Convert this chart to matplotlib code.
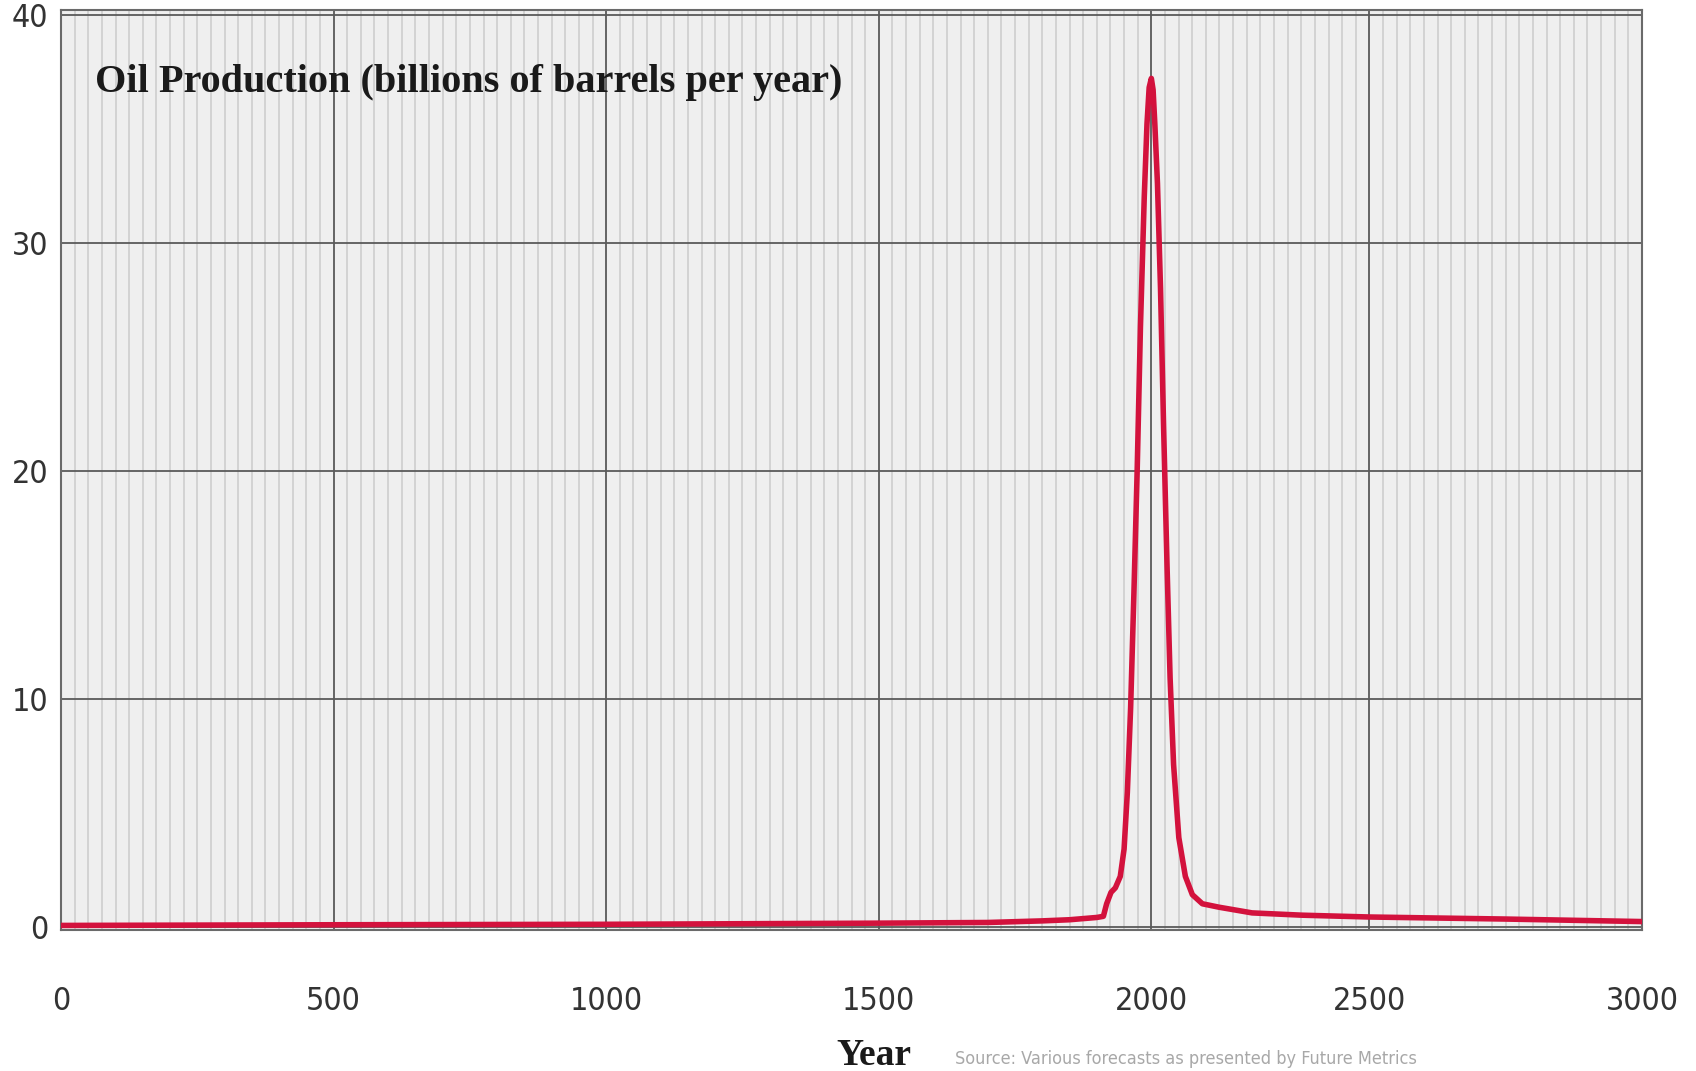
"""
oil production over the years 0 - 3000, redrawn with matplotlib
"""
import numpy as np
import matplotlib
matplotlib.use("Agg")
import matplotlib.pyplot as plt
from matplotlib.ticker import FixedLocator

# values (billions of barrels per year)
years = [0, 500, 1000, 1500, 1700, 1800, 1850, 1900, 1912, 1918, 1926, 1934,
         1943, 1950, 1956, 1962, 1968, 1974, 1980, 1987, 1992, 1996, 2000,
         2004, 2008, 2014, 2021, 2028, 2036, 2043, 2051, 2063, 2078, 2094,
         2117, 2155, 2231, 2345, 2500, 2750, 3000]
production = [0.05, 0.08, 0.1, 0.15, 0.18, 0.25, 0.3, 0.4, 0.45, 1.0, 1.5, 1.7,
              2.2, 3.4, 5.9, 9.6, 14.6, 20.0, 26.3, 32.0, 35.2, 36.8, 37.2,
              36.7, 35.2, 32.6, 28.0, 22.0, 15.8, 10.9, 7.1, 3.9, 2.2, 1.4,
              1.0, 0.85, 0.6, 0.5, 0.42, 0.33, 0.22]

x_ticks = [0, 500, 1000, 1500, 2000, 2500, 3000]
y_ticks = [0, 10, 20, 30, 40]
title = "Oil Production (billions of barrels per year)"
x_label = "Year"
source = "Source: Various forecasts as presented by Future Metrics"

# the original x axis is not even: 2000-2500 is squeezed
scale_years = [0, 2000, 2500, 3000]
scale_units = [0, 80, 96, 116]


def forward(x):
    return np.interp(x, scale_years, scale_units)


def inverse(u):
    return np.interp(u, scale_units, scale_years)


fig = plt.figure(figsize=(16.96, 10.71), dpi=100)
ax = fig.add_axes([61 / 1696, 1 - 930 / 1071, 1581 / 1696, 920 / 1071])
ax.set_facecolor("#efefef")

ax.set_xscale("function", functions=(forward, inverse))
ax.set_xlim(0, 3000)
ax.set_ylim(-0.15, 40.2)

ax.xaxis.set_major_locator(FixedLocator(x_ticks))
ax.xaxis.set_minor_locator(FixedLocator(inverse(np.arange(0, 117))))
ax.yaxis.set_major_locator(FixedLocator(y_ticks))

ax.grid(which="minor", axis="x", color="#cbcbcb", linewidth=1.1)
ax.grid(which="major", axis="both", color="#5a5a5a", linewidth=1.3)
ax.set_axisbelow(True)

for spine in ax.spines.values():
    spine.set_color("#6a6a6a")
    spine.set_linewidth(1.5)

ax.tick_params(which="both", length=0)
ax.tick_params(axis="x", pad=40)
ax.tick_params(axis="y", pad=9)
for label in ax.get_xticklabels() + ax.get_yticklabels():
    label.set_family("DejaVu Sans")
    label.set_stretch("condensed")
    label.set_fontsize(23)
    label.set_color("#333333")

ax.plot(years, production, color="#d3123d", linewidth=4.0,
        solid_joinstyle="round", zorder=3)

ax.text((95 - 61) / 1581, 1 - 82 / 920, title, transform=ax.transAxes,
        family="Liberation Serif", fontweight="bold", fontsize=29,
        color="#1a1a1a", va="baseline", ha="left")

fig.text(874 / 1696, 1 - 1065 / 1071, x_label, family="Liberation Serif",
         fontweight="bold", fontsize=27, color="#1a1a1a",
         ha="center", va="baseline")

fig.text(955 / 1696, 0.003, source, family="DejaVu Sans", stretch="condensed",
         fontsize=13, color="#a8a8a8", ha="left", va="bottom")

fig.savefig("out.png", dpi=100)
